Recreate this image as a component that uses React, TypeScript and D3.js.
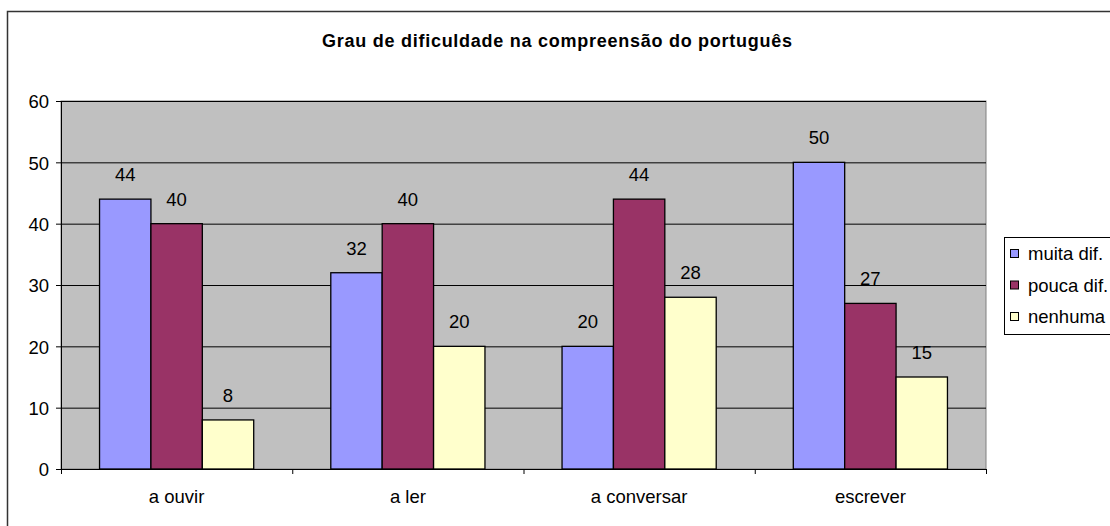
import { useMemo } from "react";
import * as d3 from "d3";

const categories = ["a ouvir", "a ler", "a conversar", "escrever"];
const seriesNames = ["muita dif.", "pouca dif.", "nenhuma"];
const muitaDif = [44, 32, 20, 50];
const poucaDif = [40, 40, 44, 27];
const nenhuma = [8, 20, 28, 15];
const yTicks = [0, 10, 20, 30, 40, 50, 60];
const COLORS = ["#9999FF", "#993366", "#FFFFCC"];

const W = 1110;
const H = 526;
const FONT = "'Liberation Sans', Arial, sans-serif";
const FS = 18.5;

export default function App() {
  const series = [muitaDif, poucaDif, nenhuma];
  const plot = { left: 61, top: 101, right: 986, bottom: 469 };

  const x = useMemo(
    () => d3.scaleBand<string>().domain(categories).range([plot.left, plot.right]),
    []
  );
  const y = useMemo(
    () => d3.scaleLinear().domain([0, 60]).range([plot.bottom, plot.top]),
    []
  );
  // Excel-style gap width 150%
  const barW = x.bandwidth() / 4.5;
  const groupOffset = barW * 0.75;

  return (
    <div style={{ position: "fixed", left: 0, top: 0 }}>
      <svg width={W} height={H} style={{ display: "block", fontFamily: FONT }}>
        <rect x={0} y={0} width={W} height={H} fill="#fff" />
        {/* outer chart border, runs past the visible frame */}
        <rect x={7.5} y={11.5} width={W + 20} height={H + 20} fill="none" stroke="#333" strokeWidth={1.5} />

        <text
          x={557}
          y={47}
          textAnchor="middle"
          fontSize={18}
          fontWeight="bold"
          fill="#000"
          textLength={470}
          lengthAdjust="spacing"
        >
          Grau de dificuldade na compreensão do português
        </text>

        {/* plot area */}
        <rect
          x={plot.left}
          y={plot.top}
          width={plot.right - plot.left}
          height={plot.bottom - plot.top}
          fill="#C0C0C0"
          stroke="#808080"
        />

        {/* gridlines */}
        {yTicks.slice(1).map((t) => (
          <line key={t} x1={plot.left} x2={plot.right} y1={y(t) + 0.5} y2={y(t) + 0.5} stroke="#000" strokeWidth={1} />
        ))}

        {/* y axis */}
        <line x1={plot.left + 0.5} x2={plot.left + 0.5} y1={plot.top} y2={plot.bottom} stroke="#000" />
        {yTicks.map((t) => (
          <g key={t}>
            <line x1={plot.left - 5} x2={plot.left} y1={y(t) + 0.5} y2={y(t) + 0.5} stroke="#000" />
            <text x={plot.left - 12} y={y(t) + 1} dy="0.35em" textAnchor="end" fontSize={FS} fill="#000">
              {t}
            </text>
          </g>
        ))}

        {/* bars */}
        {categories.map((c, ci) =>
          series.map((s, si) => {
            const bx = (x(c) ?? 0) + groupOffset + si * barW;
            const v = s[ci];
            return (
              <g key={`${c}-${si}`}>
                <rect
                  x={bx}
                  y={y(v)}
                  width={barW}
                  height={plot.bottom - y(v)}
                  fill={COLORS[si]}
                  stroke="#000"
                  strokeWidth={1.3}
                />
                <text x={bx + barW / 2} y={y(v) - 18} textAnchor="middle" fontSize={FS} fill="#000">
                  {v}
                </text>
              </g>
            );
          })
        )}

        {/* x axis */}
        <line x1={plot.left} x2={plot.right} y1={plot.bottom + 0.5} y2={plot.bottom + 0.5} stroke="#000" />
        {[...categories.map((c) => x(c) ?? 0), plot.right].map((px, i) => (
          <line key={i} x1={px + 0.5} x2={px + 0.5} y1={plot.bottom} y2={plot.bottom + 5} stroke="#000" />
        ))}
        {categories.map((c) => (
          <text key={c} x={(x(c) ?? 0) + x.bandwidth() / 2} y={503} textAnchor="middle" fontSize={FS} fill="#000">
            {c}
          </text>
        ))}

        {/* legend */}
        <rect x={1004.5} y={237.5} width={120} height={97} fill="#fff" stroke="#000" />
        {seriesNames.map((n, i) => (
          <g key={n}>
            <rect x={1010.5} y={249.5 + i * 31.5} width={8} height={8} fill={COLORS[i]} stroke="#000" />
            <text x={1028} y={254 + i * 31.5} dy="0.35em" fontSize={FS} fill="#000">
              {n}
            </text>
          </g>
        ))}
      </svg>
    </div>
  );
}
